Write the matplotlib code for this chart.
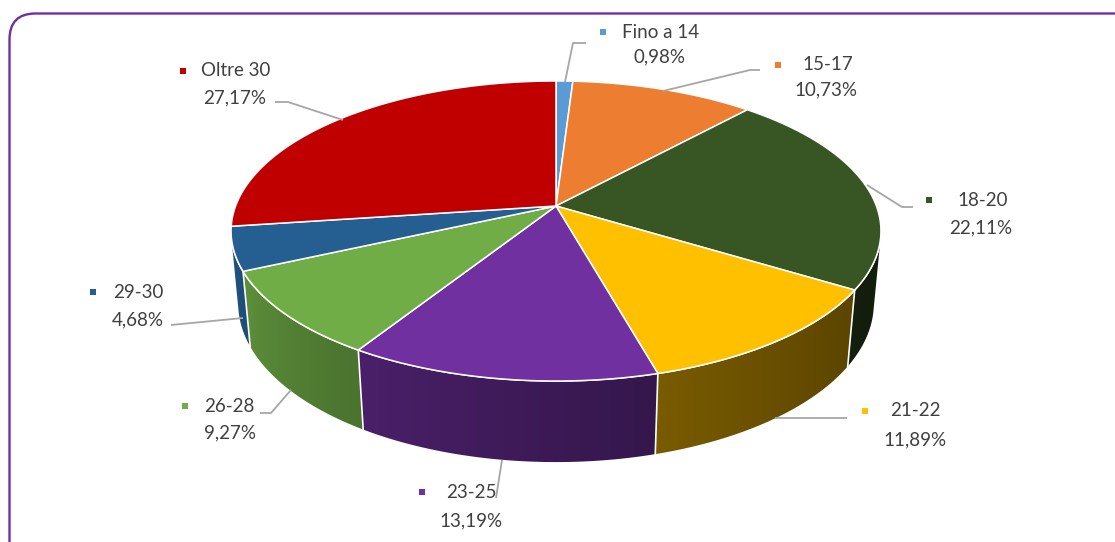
import numpy as np
import matplotlib
matplotlib.use('Agg')
import matplotlib.pyplot as plt
from matplotlib.patches import Polygon, FancyBboxPatch
from matplotlib.colors import to_rgb

# Data
categories = ['Fino a 14', '15-17', '18-20', '21-22', '23-25', '26-28', '29-30', 'Oltre 30']
shares = [0.98, 10.73, 22.11, 11.89, 13.19, 9.27, 4.68, 27.17]
slice_colors = ['#5B9BD5', '#ED7D31', '#375623', '#FFC000',
                '#7030A0', '#70AD47', '#255E91', '#C00000']

# Label layout (pixels): marker x, name x, name y, percent centre x, percent y
label_pos = [
    (603, 622, 32, 660, 57),
    (778, 802, 65, 826, 90),
    (929, 957, 200, 981, 228),
    (865, 890, 411, 915, 440),
    (422, 446, 492, 471, 521),
    (185, 204, 406, 230, 433),
    (93, 113, 292, 138, 320),
    (183, 201, 71, 235, 98),
]
leader_lines = [
    [(565, 82), (573, 43), (586, 43)],
    [(663, 91), (750, 70), (760, 70)],
    [(867, 185), (902, 207), (913, 207)],
    [(775, 418), (847, 418)],
    [(502, 460), (496, 498)],
    [(260, 413), (271, 413), (291, 390)],
    [(171, 325), (243, 318)],
    [(275, 102), (288, 102), (343, 120)],
]

W, H = 1115, 542
TEXT = '#404040'
FONT = ['Lato', 'DejaVu Sans']

# Perspective set-up for the 3D pie (camera distance = 1)
CX, CY = 556, 206
R = 0.1872
SIN_E, COS_E = 0.4552, 0.8904
FOCAL = 1711.5
DEPTH = 0.048


def project(X, Y, Z):
    v = Y * SIN_E + Z * COS_E
    w = 1 + Y * COS_E - Z * SIN_E
    return CX + FOCAL * X / w, CY - FOCAL * v / w


def rim(phi, z):
    # phi runs clockwise from the back of the pie
    return project(R * np.sin(phi), R * np.cos(phi), z)


fig = plt.figure(figsize=(W / 100, H / 100), dpi=100)
ax = fig.add_axes([0, 0, 1, 1])
ax.set_xlim(0, W)
ax.set_ylim(H, 0)
ax.axis('off')

total = sum(shares)
bounds = np.concatenate([[0], np.cumsum(shares)]) / total * 2 * np.pi

# visible part of the outer wall
phi_lo = np.arccos(-R / COS_E)
phi_hi = 2 * np.pi - phi_lo

# side walls: one polygon per slice filled with a horizontal shading gradient
for a0, a1, col in zip(bounds[:-1], bounds[1:], slice_colors):
    lo, hi = max(a0, phi_lo), min(a1, phi_hi)
    if hi <= lo:
        continue
    ph = np.linspace(lo, hi, 200)
    tx, ty = rim(ph, 0)
    bx, by = rim(ph, -DEPTH)
    pts = np.vstack([np.column_stack([tx, ty]), np.column_stack([bx, by])[::-1]])
    wall = Polygon(pts, closed=True, facecolor='none', edgecolor='none')
    ax.add_patch(wall)

    x0, x1 = pts[:, 0].min() - 2, pts[:, 0].max() + 2
    y0, y1 = pts[:, 1].min() - 2, pts[:, 1].max() + 2
    cols = np.linspace(x0, x1, 256)
    order = np.argsort(tx)
    phc = np.interp(cols, tx[order], ph[order])
    t = (phc - phi_lo) / (phi_hi - phi_lo)
    f = 0.33 + 0.57 * t ** 1.5
    img = np.clip(np.array(to_rgb(col))[None, None, :] * f[None, :, None], 0, 1)
    im = ax.imshow(img, extent=(x0, x1, y1, y0), aspect='auto',
                   interpolation='bilinear', zorder=1)
    im.set_clip_path(wall)

ax.set_xlim(0, W)
ax.set_ylim(H, 0)

# white seams between wall segments and along the top rim
for a in bounds[1:-1]:
    if phi_lo < a < phi_hi:
        xa, ya = rim(a, 0)
        xb, yb = rim(a, -DEPTH)
        ax.plot([xa, xb], [ya, yb], color='white', lw=1.2, zorder=2)
ph = np.linspace(phi_lo, phi_hi, 300)
ax.plot(*rim(ph, 0), color='white', lw=1.2, zorder=2)

# top face
for a0, a1, col in zip(bounds[:-1], bounds[1:], slice_colors):
    ph = np.linspace(a0, a1, max(3, int(np.degrees(a1 - a0) * 2)))
    x, y = rim(ph, 0)
    pts = [(CX, CY)] + list(zip(x, y))
    ax.add_patch(Polygon(pts, closed=True, facecolor=col, edgecolor='white',
                         lw=1.1, joinstyle='round', zorder=3))

# leader lines and data labels
for line in leader_lines:
    xs, ys = zip(*line)
    ax.plot(xs, ys, color='#A6A6A6', lw=1.3, zorder=4, solid_capstyle='butt')

for name, val, col, (mx, nx, ny, px, py) in zip(categories, shares, slice_colors, label_pos):
    ax.scatter([mx], [ny], marker='s', s=22, color=col, zorder=5, linewidths=0)
    ax.text(nx, ny, name, ha='left', va='center', fontsize=13.5,
            color=TEXT, family=FONT, zorder=5)
    pct = f'{val:.2f}'.replace('.', ',') + '%'
    ax.text(px, py, pct, ha='center', va='center', fontsize=13.5,
            color=TEXT, family=FONT, zorder=5)

# rounded chart border
ax.add_patch(FancyBboxPatch((9.5, 13.5), 1200, 600,
                            boxstyle='round,pad=0,rounding_size=26',
                            fill=False, edgecolor='#7030A0', lw=1.7, zorder=6))

fig.savefig('out.png', dpi=100)
